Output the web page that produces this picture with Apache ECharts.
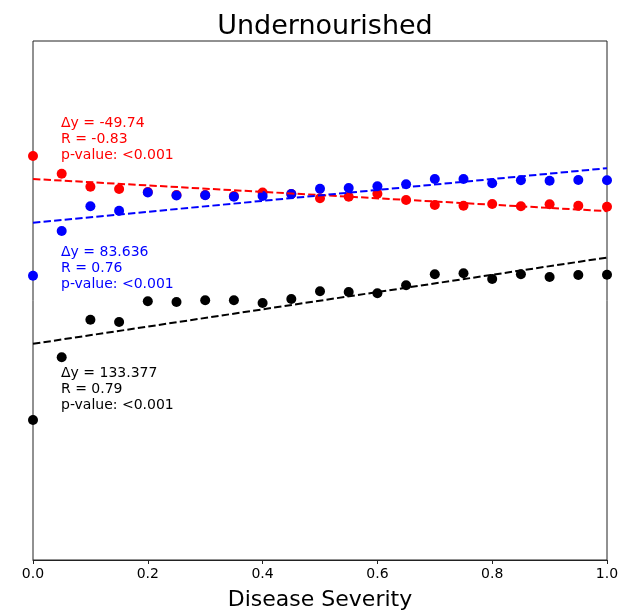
<!DOCTYPE html>
<html>
<head>
<meta charset="utf-8">
<script src="https://cdn.jsdelivr.net/npm/echarts@6/dist/echarts.min.js"></script>
<style>html,body{margin:0;padding:0;background:#fff}#c{width:618px;height:612px}</style>
</head>
<body>
<div id="c"></div>
<script>
const severity = [0,0.05,0.1,0.15,0.2,0.25,0.3,0.35,0.4,0.45,0.5,0.55,0.6,0.65,0.7,0.75,0.8,0.85,0.9,0.95,1.0];
const redValues = [622.7,595.4,575.4,571.9,567.2,562.6,562.6,561.1,566.5,564.2,557.5,560.0,564.6,554.9,547.2,546.1,548.7,545.2,548.3,546.1,544.6];
const blueValues = [438.2,507.1,545.2,538.4,566.5,561.8,562.1,560.0,561.1,564.2,572.3,573.4,576.0,579.1,587.3,587.3,580.6,585.3,584.7,585.7,585.3];
const blackValues = [215.8,312.4,370.4,366.9,398.8,397.7,400.3,400.3,396.1,402.3,414.3,413.1,411.1,423.4,440.4,441.9,433.1,440.4,436.2,439.3,439.8];
const xTicks = [0,0.2,0.4,0.6,0.8,1.0];
const redNote = ['Δy = -49.74','R = -0.83','p-value: <0.001'];
const blueNote = ['Δy = 83.636','R = 0.76','p-value: <0.001'];
const blackNote = ['Δy = 133.377','R = 0.79','p-value: <0.001'];

function fit(xs, ys){
  const n = xs.length;
  const mx = xs.reduce((a,b)=>a+b,0)/n, my = ys.reduce((a,b)=>a+b,0)/n;
  let sxy=0,sxx=0;
  for(let i=0;i<n;i++){sxy+=(xs[i]-mx)*(ys[i]-my);sxx+=(xs[i]-mx)**2;}
  const b=sxy/sxx, a=my-b*mx;
  return [[0,a],[1,a+b]];
}
const pts = v => severity.map((x,i)=>[x,v[i]]);
const FONT = '"DejaVu Sans", sans-serif';
function scat(name,color,v){return {type:'scatter',name,data:pts(v),symbolSize:10,itemStyle:{color,opacity:1},silent:true};}
function reg(name,color,v){return {type:'line',name:name+' fit',data:fit(severity,v),showSymbol:false,symbol:'none',lineStyle:{color,width:2,type:[7.4,3.2]},silent:true};}
function note(lines,color,top){return {type:'text',left:61,top:top,style:{text:lines.join('\n'),fill:color,font:'14px '+FONT,lineHeight:16}};}

const chart = echarts.init(document.getElementById('c'));
chart.setOption({
  animation:false,
  backgroundColor:'#fff',
  title:{text:'Undernourished',left:'center',left:320,textAlign:'center',top:8,textStyle:{fontFamily:FONT,fontSize:27,fontWeight:'normal',color:'#000'}},
  grid:{left:33,right:11,top:41,bottom:52,show:true,borderColor:'#222',borderWidth:1,backgroundColor:'transparent',outerBoundsMode:'none'},
  xAxis:{type:'value',min:0,max:1,interval:0.2,
    name:'Disease Severity',nameLocation:'middle',nameGap:29,
    nameTextStyle:{fontFamily:FONT,fontSize:22,color:'#000'},
    axisLine:{show:true,lineStyle:{color:'#222',width:1}},
    axisTick:{show:true,length:4,lineStyle:{color:'#222'}},
    axisLabel:{margin:7,fontFamily:FONT,fontSize:14,color:'#000',formatter:v=>xTicks.includes(+v.toFixed(1))?v.toFixed(1):''},
    splitLine:{show:false}},
  yAxis:{type:'value',min:0,max:800,show:false,splitLine:{show:false}},
  series:[
    scat('red','#ff0000',redValues), reg('red','#ff0000',redValues),
    scat('blue','#0000ff',blueValues), reg('blue','#0000ff',blueValues),
    scat('black','#000000',blackValues), reg('black','#000000',blackValues)
  ],
  graphic:[note(redNote,'#ff0000',115),note(blueNote,'#0000ff',244),note(blackNote,'#000000',365)]
});
</script>
</body>
</html>
